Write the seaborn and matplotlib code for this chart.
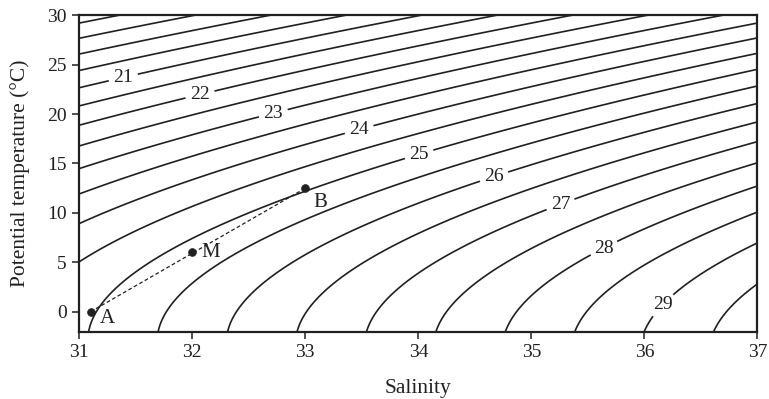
import numpy as np
import pandas as pd
import matplotlib
matplotlib.use("Agg")
import matplotlib.pyplot as plt
import seaborn as sns

# Water masses: A and B lie on the same isopycnal, M is their mixture
point_names = ["A", "M", "B"]
point_salinity = [31.1, 32.0, 33.0]
point_theta = [0.0, 6.0, 12.5]

# Isopycnal levels (sigma-theta): the labelled whole values and the half-steps
labeled_levels = [21, 22, 23, 24, 25, 26, 27, 28, 29]
plain_levels = [18.0, 18.5, 19.0, 19.5, 20.0, 20.5, 21.5, 22.5, 23.5,
                24.5, 25.5, 26.5, 27.5, 28.5, 29.5, 30.0]
label_salinity = [31.39, 32.07, 32.71, 33.47, 34.0, 34.66, 35.25, 35.63, 36.16]
label_theta = [23.7, 21.9, 20.4, 18.7, 16.2, 14.0, 11.1, 6.7, 0.7]

x_ticks = [31, 32, 33, 34, 35, 36, 37]
y_ticks = [0, 5, 10, 15, 20, 25, 30]


def sigma_theta(S, T):
    """UNESCO (1981) density at surface pressure, minus 1000 kg/m^3."""
    rho_w = (999.842594 + 6.793952e-2 * T - 9.095290e-3 * T**2
             + 1.001685e-4 * T**3 - 1.120083e-6 * T**4 + 6.536332e-9 * T**5)
    a = (0.824493 - 4.0899e-3 * T + 7.6438e-5 * T**2
         - 8.2467e-7 * T**3 + 5.3875e-9 * T**4)
    b = -5.72466e-3 + 1.0227e-4 * T - 1.6546e-6 * T**2
    c = 4.8314e-4
    return rho_w + a * S + b * S**1.5 + c * S**2 - 1000.0


sns.set_theme(style="ticks")
plt.rcParams["font.family"] = ["Liberation Serif", "DejaVu Serif"]
ink = "#231f20"
plt.rcParams.update({
    "text.color": ink, "axes.labelcolor": ink,
    "xtick.color": ink, "ytick.color": ink, "axes.edgecolor": ink,
})

fig = plt.figure(figsize=(7.69, 3.99), dpi=100)
ax = fig.add_axes([0.103, 0.169, 0.882, 0.793])

S_grid = np.linspace(31, 37, 400)
T_grid = np.linspace(-2, 30, 400)
SS, TT = np.meshgrid(S_grid, T_grid)
ZZ = sigma_theta(SS, TT)
ax.contour(SS, TT, ZZ, levels=plain_levels, colors=ink, linewidths=1.2)
cs = ax.contour(SS, TT, ZZ, levels=[float(v) for v in labeled_levels],
                colors=ink, linewidths=1.2)
labels = ax.clabel(cs, fmt="%d", fontsize=14, inline=True,
                   inline_spacing=5,
                   manual=list(zip(label_salinity, label_theta)))
for t in labels:
    t.set_rotation(0)

df = pd.DataFrame({"S": point_salinity, "T": point_theta, "name": point_names})
sns.lineplot(data=df.iloc[[0, 2]], x="S", y="T", ax=ax, color=ink,
             linewidth=0.9, linestyle=(0, (3, 2)), sort=False)
sns.scatterplot(data=df, x="S", y="T", ax=ax, color=ink, s=32,
                edgecolor=ink, zorder=5)
offsets = {"A": (0.08, -0.7), "M": (0.08, 0.0), "B": (0.07, -1.4)}
for name, s, t in zip(point_names, point_salinity, point_theta):
    dx, dy = offsets[name]
    ax.text(s + dx, t + dy, name, fontsize=15, ha="left", va="center")

ax.set_xlim(31, 37)
ax.set_ylim(-2, 30)
ax.set_xticks(x_ticks)
ax.set_yticks(y_ticks)
ax.tick_params(direction="out", length=5, width=1.1, labelsize=14, pad=4)
for sp in ax.spines.values():
    sp.set_visible(True)
    sp.set_linewidth(1.6)
ax.set_xlabel("Salinity", fontsize=15.5, labelpad=13)
ax.set_ylabel("Potential temperature (°C)", fontsize=15.5, labelpad=12)

fig.savefig("out.png", dpi=100)
